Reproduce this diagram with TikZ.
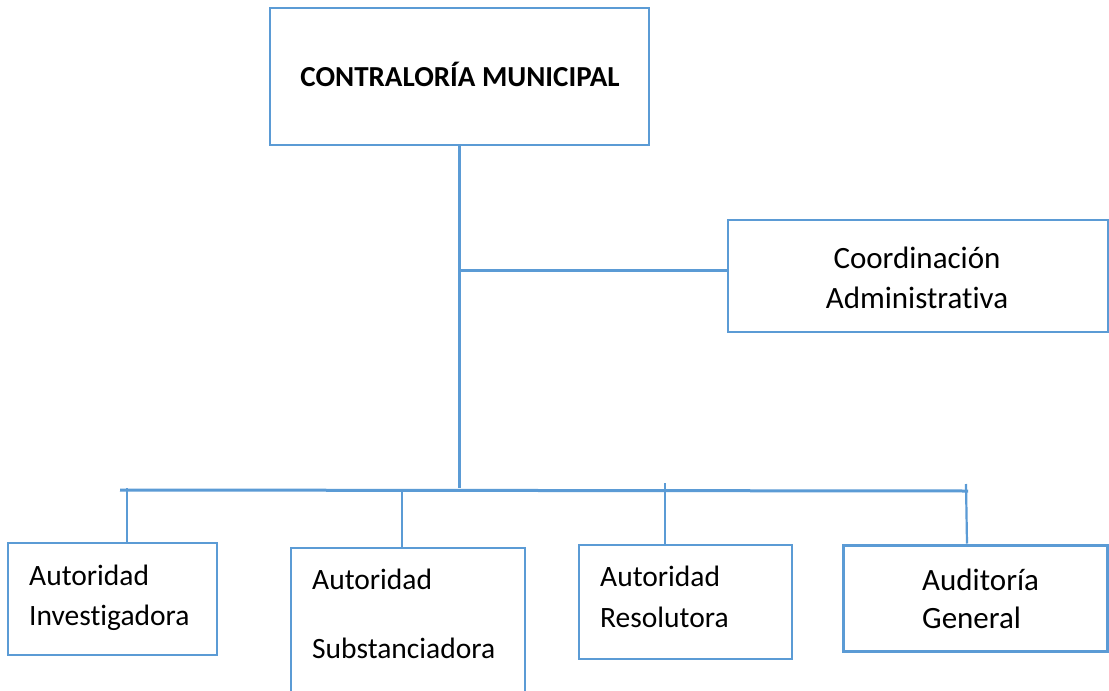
\documentclass[tikz,border=0pt]{standalone}
\usepackage{fontspec}
\setmainfont{Carlito}[Ligatures=NoCommon]
\definecolor{lblue}{HTML}{5B9BD5}
\begin{document}
\begin{tikzpicture}[x=1pt,y=-1pt,
  box/.style={draw=lblue, line width=1.6pt, inner sep=0pt},
  conn/.style={draw=lblue, line width=3pt},
  tick/.style={draw=lblue, line width=2.2pt},
  lbl/.style={font=\fontsize{29.5}{35}\selectfont, inner sep=0pt},
  lblb/.style={font=\fontsize{31}{37}\selectfont, inner sep=0pt},
  ttl/.style={font=\fontsize{29}{35}\selectfont\bfseries, inner sep=0pt}]
\useasboundingbox (0,0) rectangle (1109,691);
\clip (0,0) rectangle (1109,691);
\fill[white] (0,0) rectangle (1109,691);
% boxes
\node[box, line width=1.8pt, minimum width=379pt, minimum height=137pt] (top) at (459.5,76.5) {};
\node[box, minimum width=380pt, minimum height=112pt] (coord) at (918,276) {};
\node[box, minimum width=209pt, minimum height=112pt] (b1) at (112.5,599) {};
\node[box, minimum width=234pt, minimum height=172pt] (b2) at (408,634) {};
\node[box, minimum width=213pt, minimum height=114pt] (b3) at (685.5,602) {};
\node[box, line width=3pt, minimum width=264pt, minimum height=106pt] (b4) at (975,598) {};
% texts
\node[ttl, anchor=base] (ttltxt) at (460,86) {CONTRALORÍA MUNICIPAL};
\node[lblb, anchor=base] (c1) at (917,268) {Coordinación};
\node[lblb, anchor=base] (c2) at (917,308) {Administrativa};
\node[lbl, anchor=base west] (b1a) at (29,585) {Autoridad};
\node[lbl, anchor=base west] (b1b) at (29,625) {Investigadora};
\node[lbl, anchor=base west] (b2a) at (312,589) {Autoridad};
\node[lbl, anchor=base west] (b2b) at (312,658) {Substanciadora};
\node[lbl, anchor=base west] (b3a) at (600,586) {Autoridad};
\node[lbl, anchor=base west] (b3b) at (600,627) {Resolutora};
\node[lblb, anchor=base west] (b4a) at (922,590) {Auditoría};
\node[lblb, anchor=base west] (b4b) at (922,628) {General};
% connectors
\coordinate (j) at (458,488);
\coordinate (br) at (459,270);
\coordinate (busL) at (120,490);
\coordinate (busR) at (968,491);
\coordinate (t1) at (127,488);
\coordinate (t2) at (402,490);
\coordinate (t3) at (665,483);
\coordinate (t4) at (966,484);
\draw[conn] (top.south) -- (top.south |- j);
\draw[conn] (br) -- (br -| coord.west);
\draw[conn] (busL) -- (busR);
\draw[tick] (t1) -- (t1 |- b1.north);
\draw[tick] (t2) -- (t2 |- b2.north);
\draw[tick] (t3) -- (t3 |- b3.north);
\draw[tick] (t4) -- (b4.north -| 967,0);
\end{tikzpicture}
\end{document}
